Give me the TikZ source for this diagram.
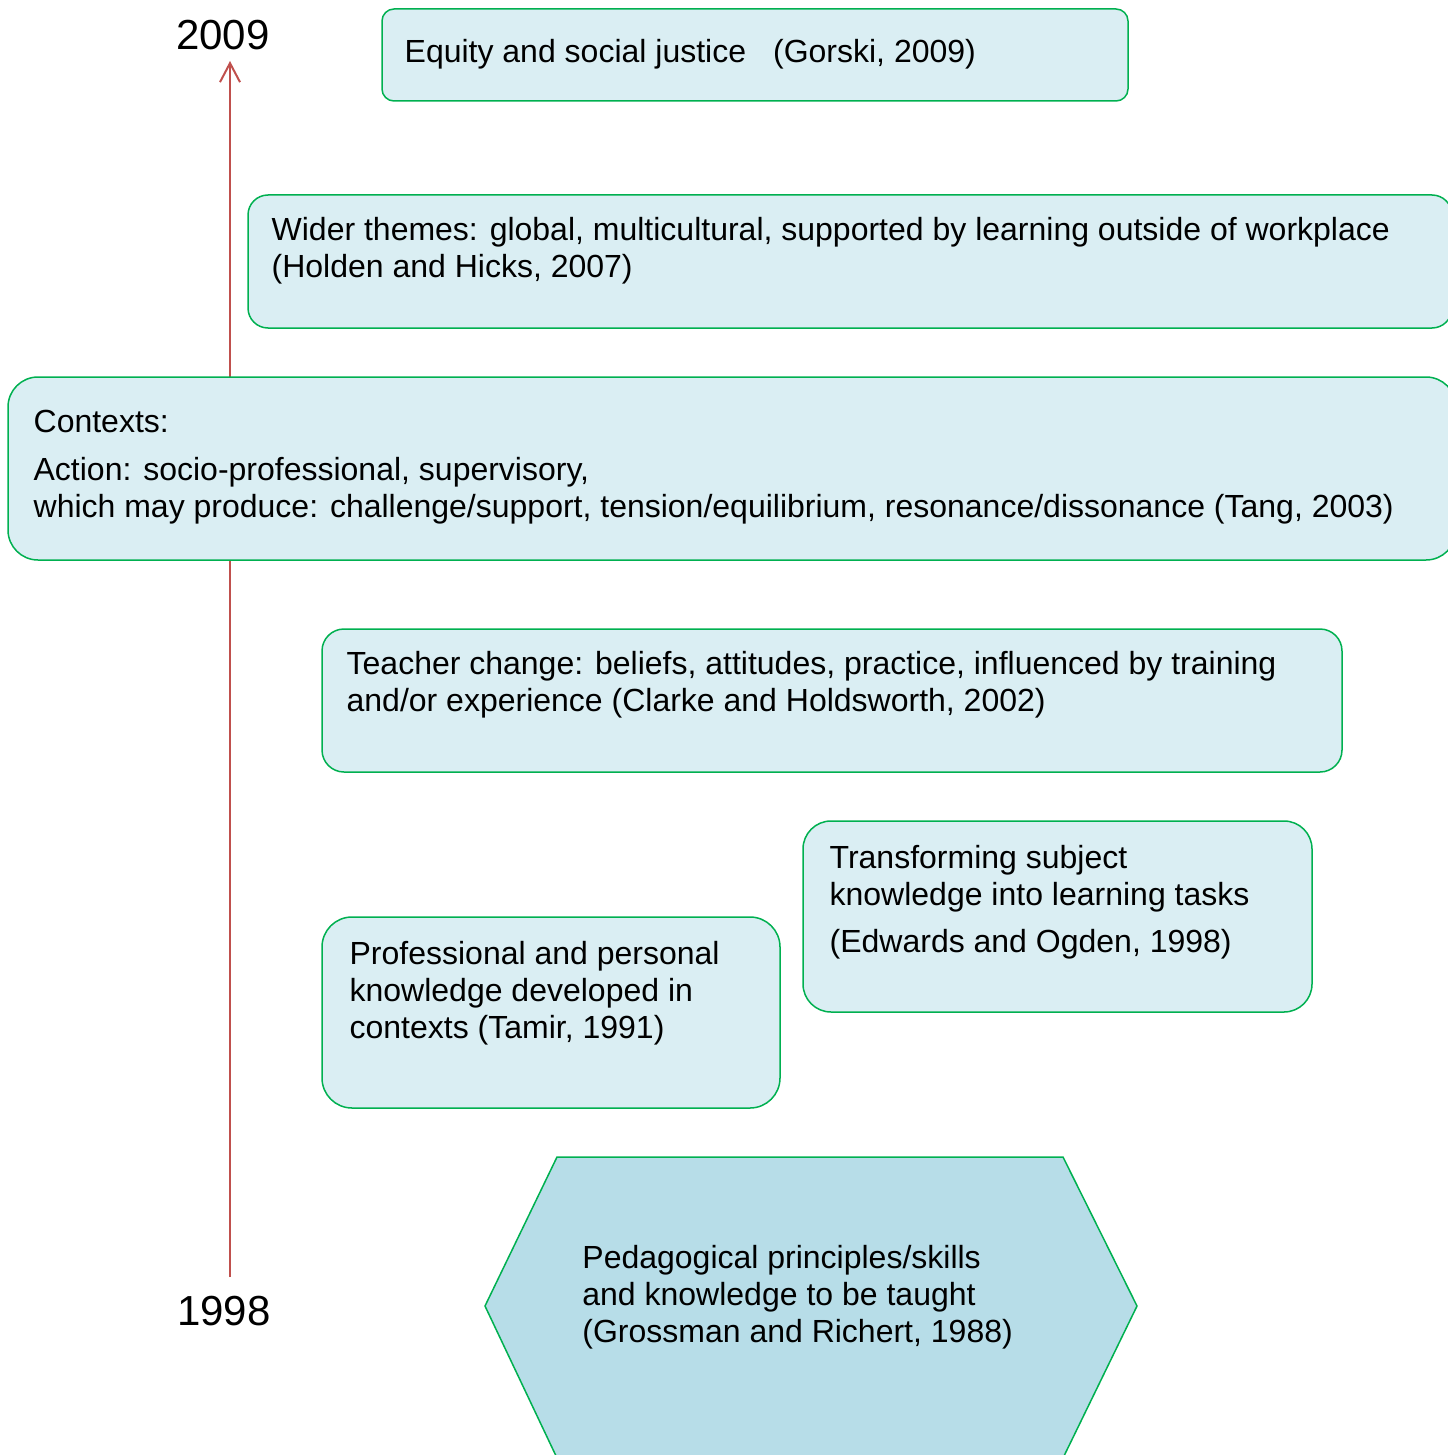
\documentclass[tikz,border=0pt]{standalone}
\usepackage{fontspec}
\setmainfont{Liberation Sans}
\usetikzlibrary{arrows.meta,positioning,fit,calc}
\definecolor{CardFill}{HTML}{DAEEF3}
\definecolor{HexFill}{HTML}{B7DDE8}
\definecolor{CardEdge}{HTML}{00B050}
\definecolor{TimeRed}{HTML}{C0504D}
\tikzset{
  card/.style={draw=CardEdge, fill=CardFill, line width=0.75pt, inner sep=0pt},
  cardtext/.style={anchor=base west, align=left, inner sep=0pt,
                 font=\fontsize{16}{18.4}\selectfont},
  yearlbl/.style={anchor=base, inner sep=0pt, font=\fontsize{21}{25}\selectfont},
  timeline/.style={-{Straight Barb[length=9.5pt,width=10pt]}, line width=1pt, TimeRed}
}

\begin{document}
\begin{tikzpicture}[x=0.5pt, y=-0.5pt]
\useasboundingbox (0,0) rectangle (1447,1455);
% time axis
\coordinate (t0) at (230,1277);
\coordinate (t1) at (230,61);
\draw[timeline] (t0) -- (t1);
\node[yearlbl] (y2009) at (223,50) {2009};
\node[yearlbl] (y1998) at (224,1325) {1998};

% cards (text placed by the baseline of its last line)
\node[card, rounded corners=6pt, fit={(382,9)(1128,101)}] (equity) {};
\node[cardtext] (equitytxt) at ($(equity.north west)+(23,54)$)
  {Equity and social justice\hspace{13.5pt}(Gorski, 2009)};

\node[card, rounded corners=10pt, fit={(248,195)(1452,328)}] (wider) {};
\node[cardtext] (widertxt) at ($(wider.north west)+(24,83)$)
  {Wider themes: global, multicultural, supported by learning outside of workplace\\
   (Holden and Hicks, 2007)};

\node[card, rounded corners=15pt, fit={(8,377)(1456,560)}] (contexts) {};
\node[cardtext] (contextstxt) at ($(contexts.north west)+(26,141)$)
  {Contexts:\\[5.5pt]
   Action: socio-professional, supervisory,\\
   which may produce: challenge/support, tension/equilibrium, resonance/dissonance (Tang, 2003)};

\node[card, rounded corners=11pt, fit={(322,629)(1342,772)}] (teacher) {};
\node[cardtext] (teachertxt) at ($(teacher.north west)+(25,83)$)
  {Teacher change: beliefs, attitudes, practice, influenced by training\\
   and/or experience (Clarke and Holdsworth, 2002)};

\node[card, rounded corners=14pt, fit={(803,821)(1312,1012)}] (transform) {};
\node[cardtext] (transformtxt) at ($(transform.north west)+(27,132)$)
  {Transforming subject\\
   knowledge into learning tasks\\[5pt]
   (Edwards and Ogden, 1998)};

\node[card, rounded corners=15pt, fit={(322,917)(780,1108)}] (profknow) {};
\node[cardtext] (profknowtxt) at ($(profknow.north west)+(28,122)$)
  {Professional and personal\\
   knowledge developed in\\
   contexts (Tamir, 1991)};

% base of the timeline
\draw[draw=CardEdge, fill=HexFill, line width=0.75pt]
  (557,1157) coordinate (hexnw) -- (1063,1157) -- (1137,1306) -- (1063,1458)
  -- (557,1458) -- (485,1306) -- cycle;
\node[cardtext] (pedagogy) at ($(hexnw)+(25,185)$)
  {Pedagogical principles/skills\\
   and knowledge to be taught\\
   (Grossman and Richert, 1988)};
\end{tikzpicture}
\end{document}
